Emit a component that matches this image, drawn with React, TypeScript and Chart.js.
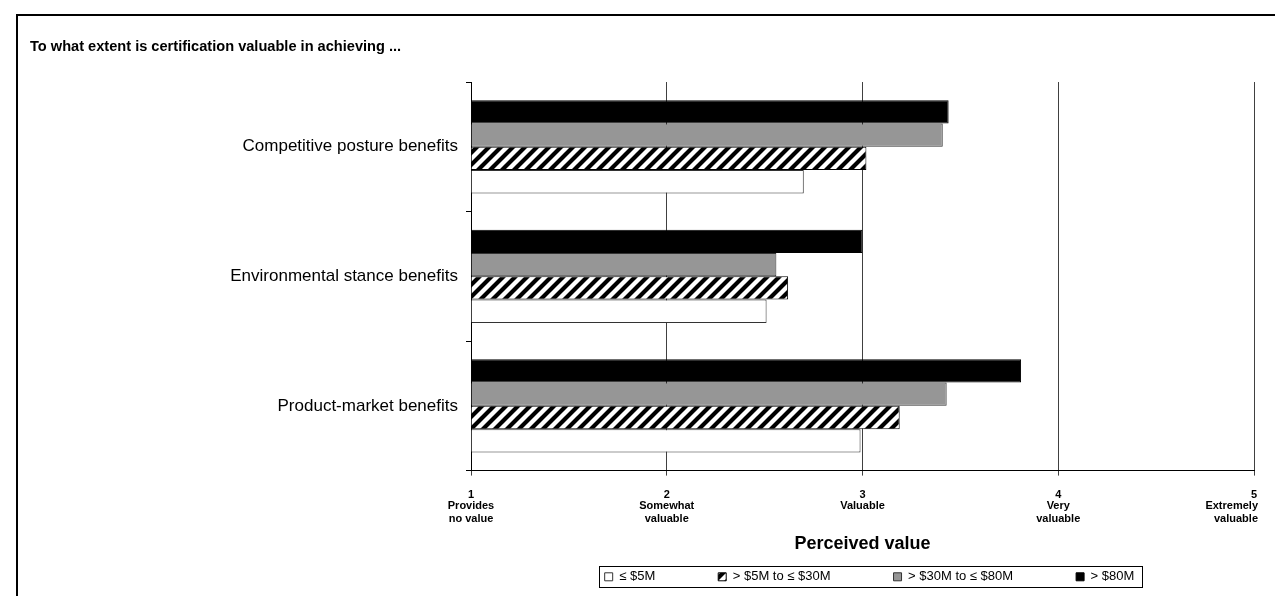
import React, { useEffect, useRef } from 'react';
import { Chart, registerables } from 'chart.js';

Chart.register(...registerables);

const FONT = '"Liberation Sans", Arial, Helvetica, sans-serif';

const chartTitle = 'To what extent is certification valuable in achieving ...';
const axisTitle = 'Perceived value';

const categories = [
  'Competitive posture benefits',
  'Environmental stance benefits',
  'Product-market benefits',
];

const seriesLabels = ['≤ $5M', '> $5M to ≤ $30M', '> $30M to ≤ $80M', '> $80M'];

const valuesUpTo5M = [2.70, 2.51, 2.99];
const values5To30M = [3.02, 2.62, 3.19];
const values30To80M = [3.41, 2.56, 3.43];
const valuesOver80M = [3.44, 3.0, 3.81];

const tickDescriptions = [
  ['Provides', 'no value'],
  ['Somewhat', 'valuable'],
  ['Valuable'],
  ['Very', 'valuable'],
  ['Extremely', 'valuable'],
];

function makeHatch(): CanvasPattern | string {
  const size = 12;
  const c = document.createElement('canvas');
  c.width = size;
  c.height = size;
  const g = c.getContext('2d');
  if (!g) return '#888';
  g.fillStyle = '#fff';
  g.fillRect(0, 0, size, size);
  g.strokeStyle = '#000';
  g.lineWidth = 4.2;
  g.beginPath();
  for (let k = -1; k <= 1; k++) {
    g.moveTo(k * size - 3, size + 3);
    g.lineTo(k * size + size + 3, -3);
  }
  g.stroke();
  const p = g.createPattern(c, 'repeat');
  return p || '#888';
}

const xDescPlugin = {
  id: 'xDesc',
  afterDraw(chart: any) {
    const scale = chart.scales.x;
    const area = chart.chartArea;
    const ctx = chart.ctx;
    ctx.save();
    ctx.font = `bold 11px ${FONT}`;
    ctx.fillStyle = '#000';
    ctx.textBaseline = 'middle';
    ctx.textAlign = 'left';
    const y0 = scale.top + 35.5;
    tickDescriptions.forEach((lines, i) => {
      const x = scale.getPixelForValue(i + 1);
      lines.forEach((line, j) => {
        const w = ctx.measureText(line).width;
        let left = x - w / 2;
        left = Math.min(left, area.right + 4 - w);
        ctx.fillText(line, left, y0 + j * 13);
      });
    });
    ctx.restore();
  },
};

const legendPlugin = {
  id: 'legendAdjust',
  afterLayout(chart: any) {
    const lg = chart.legend;
    const area = chart.chartArea;
    const pad = lg.options.labels.padding;
    const center = lg.top + 22;
    lg.left = area.left + 14;
    lg.right = area.right;
    lg.top = center - pad - 6.5;
  },
  afterDraw(chart: any) {
    const lg = chart.legend;
    const boxes = lg.legendHitBoxes;
    if (!boxes || !boxes.length) return;
    let l = Infinity;
    let r = -Infinity;
    let t = Infinity;
    boxes.forEach((b: any) => {
      l = Math.min(l, b.left);
      r = Math.max(r, b.left + b.width);
      t = Math.min(t, b.top);
    });
    const c = t + 6.5;
    const ctx = chart.ctx;
    ctx.save();
    ctx.strokeStyle = '#000';
    ctx.lineWidth = 1;
    ctx.strokeRect(Math.round(l - 6) + 0.5, Math.round(c - 11) + 0.5, Math.round(r - l + 13), 21);
    ctx.restore();
  },
};

export default function App() {
  const ref = useRef<HTMLCanvasElement | null>(null);

  useEffect(() => {
    if (!ref.current) return;
    Chart.defaults.font.family = FONT;
    Chart.defaults.color = '#000';
    const hatch = makeHatch();
    const chart = new Chart(ref.current, {
      type: 'bar',
      data: {
        labels: categories,
        datasets: [
          { label: seriesLabels[3], data: valuesOver80M, backgroundColor: '#000', borderColor: '#000', borderWidth: 1, base: 1 },
          { label: seriesLabels[2], data: values30To80M, backgroundColor: '#969696', borderColor: '#333', borderWidth: 1, base: 1 },
          { label: seriesLabels[1], data: values5To30M, backgroundColor: hatch as any, borderColor: '#000', borderWidth: 1, base: 1 },
          { label: seriesLabels[0], data: valuesUpTo5M, backgroundColor: '#fff', borderColor: '#333', borderWidth: 1, base: 1 },
        ] as any,
      },
      plugins: [xDescPlugin, legendPlugin],
      options: {
        indexAxis: 'y',
        animation: false,
        responsive: false,
        categoryPercentage: 0.72,
        barPercentage: 1,
        layout: { padding: { left: 30, right: 21, top: 0, bottom: 0 } },
        scales: {
          x: {
            type: 'linear',
            min: 1,
            max: 5,
            ticks: {
              stepSize: 1,
              padding: 12.4,
              color: '#000',
              font: { size: 11, weight: 'bold' },
              callback: (v: any) => String(v),
            },
            grid: { color: '#404040', lineWidth: 1, tickLength: 5, drawTicks: true },
            border: { display: true, color: '#000', width: 1 },
            title: {
              display: true,
              text: axisTitle,
              color: '#000',
              font: { size: 18, weight: 'bold' },
              padding: { top: 19.6, bottom: 0 },
            },
          },
          y: {
            type: 'category',
            ticks: { color: '#000', font: { size: 17 }, padding: 8 },
            grid: { drawOnChartArea: false, drawTicks: true, tickLength: 5, color: '#000', offset: true },
            border: { display: true, color: '#000', width: 1 },
            afterFit: (scale: any) => {
              scale.width = 441;
            },
          },
        },
        plugins: {
          title: {
            display: true,
            text: chartTitle,
            align: 'start',
            color: '#000',
            font: { size: 14.6, weight: 'bold' },
            padding: { top: 38.3, bottom: 26.2 },
          },
          legend: {
            display: true,
            position: 'bottom',
            reverse: true,
            maxHeight: 41.2,
            labels: {
              boxWidth: 8,
              boxHeight: 8,
              padding: 63,
              color: '#000',
              font: { size: 13 },
            },
          },
          tooltip: { enabled: false },
        },
      } as any,
    });
    return () => chart.destroy();
  }, []);

  return (
    <div style={{ position: 'fixed', left: 0, top: 0, width: 1275, height: 596, overflow: 'hidden', background: '#fff' }}>
      <div style={{ position: 'absolute', left: 16, top: 14, width: 1300, height: 700, border: '2px solid #000' }} />
      <canvas ref={ref} width={1275} height={596} style={{ position: 'absolute', left: 0, top: 0 }} />
    </div>
  );
}
